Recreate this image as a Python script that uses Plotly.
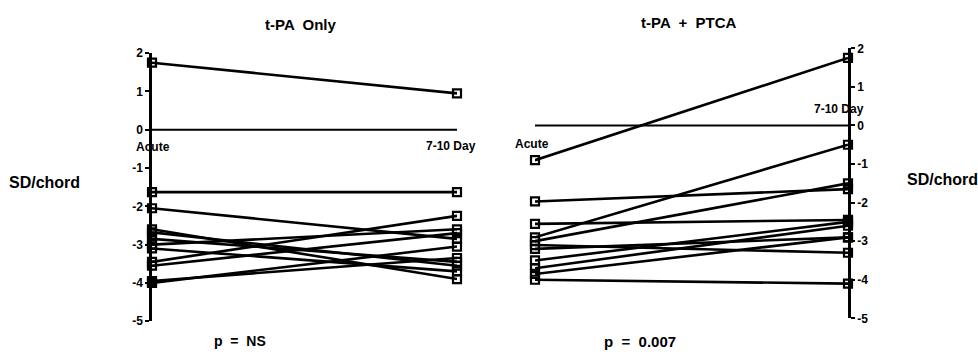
import plotly.graph_objects as go

W, H = 978, 358

time_points = ["Acute", "7-10 Day"]
y_ticks = [-5, -4, -3, -2, -1, 0, 1, 2]
y_tick_labels = ["-5", "-4", "-3", "-2", "-1", "0", "1", "2"]

# t-PA Only: (acute, 7-10 day) per patient
tpa_acute = [1.75, -1.63, -2.05, -2.6, -2.68, -2.85, -3.0, -3.1, -3.45, -3.55, -3.95, -4.0]
tpa_day = [0.95, -1.63, -2.85, -3.9, -3.55, -3.45, -2.6, -3.7, -2.25, -2.7, -3.35, -3.05]

# t-PA + PTCA
ptca_acute = [-0.9, -1.97, -2.55, -2.9, -3.0, -3.1, -3.2, -3.5, -3.7, -3.85, -4.0]
ptca_day = [1.75, -1.65, -2.45, -0.5, -1.5, -3.3, -2.9, -2.5, -2.6, -2.9, -4.1]

FONT = "Liberation Sans, Arial, sans-serif"

fig = go.Figure()

def add_series(acute, day, xa, ya):
    for a, d in zip(acute, day):
        fig.add_trace(go.Scatter(
            x=[0, 1], y=[a, d], xaxis=xa, yaxis=ya, mode="lines+markers",
            line=dict(color="black", width=2.6),
            marker=dict(symbol="square-open", size=8, color="black", line=dict(width=2.2)),
            cliponaxis=False, showlegend=False, hoverinfo="skip"))

add_series(tpa_acute, tpa_day, "x", "y")
add_series(ptca_acute, ptca_day, "x2", "y2")

def px_x(p):
    return p / W

def px_y(p):
    return 1 - p / H

axis_common = dict(range=[-5, 2], tickvals=y_ticks,
                   ticktext=["<b>" + t + "</b>" for t in y_tick_labels],
                   showgrid=False, zeroline=False, showline=True, linecolor="black",
                   linewidth=2.5, ticks="outside", ticklen=4, tickwidth=2, tickcolor="black",
                   tickfont=dict(family=FONT, size=12, color="black"))

fig.update_layout(
    width=W, height=H, margin=dict(l=0, r=0, t=0, b=0),
    paper_bgcolor="white", plot_bgcolor="rgba(0,0,0,0)",
    xaxis=dict(domain=[px_x(152), px_x(457)], range=[0, 1], visible=False),
    yaxis=dict(domain=[px_y(327), px_y(48)], anchor="x", side="left", **axis_common),
    xaxis2=dict(domain=[px_x(535), px_x(848)], range=[0, 1], visible=False, anchor="y2"),
    yaxis2=dict(domain=[px_y(324), px_y(43)], anchor="x2", side="right", **axis_common),
    shapes=[
        dict(type="line", xref="x", yref="y", x0=0, x1=1, y0=0, y1=0,
             line=dict(color="black", width=2)),
        dict(type="line", xref="x2", yref="y2", x0=0, x1=1, y0=0, y1=0,
             line=dict(color="black", width=2)),
    ],
)

def ann(text, x, y, size=12):
    fig.add_annotation(text=text, x=px_x(x), y=px_y(y), xref="paper", yref="paper",
                       showarrow=False, xanchor="center", yanchor="middle",
                       font=dict(family=FONT, size=size, color="black"))

ann("<b>t-PA  Only</b>", 300, 18, 15)
ann("<b>t-PA  +  PTCA</b>", 689, 16, 15)
ann("<b>SD/chord</b>", 44, 183, 16)
ann("<b>SD/chord</b>", 942, 180, 16)
ann("<b>p  =  NS</b>", 240, 348, 14)
ann("<b>p  =  0.007</b>", 640, 348, 15)
ann("<b>" + time_points[0] + "</b>", 153, 146, 12)
ann("<b>" + time_points[1] + "</b>", 451, 145, 12)
ann("<b>" + time_points[0] + "</b>", 532, 143, 12)
ann("<b>" + time_points[1] + "</b>", 839, 106, 12)

fig.write_html("out.html")
